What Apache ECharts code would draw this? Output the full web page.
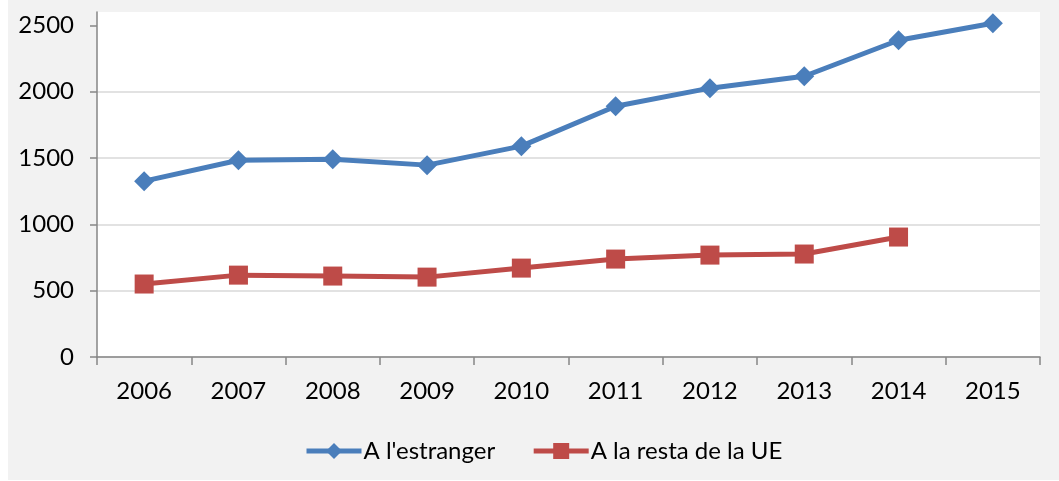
<!DOCTYPE html>
<html>
<head>
<meta charset="UTF-8">
<title>A l'estranger</title>
<script type="text/javascript" src="https://cdn.jsdelivr.net/npm/echarts@6/dist/echarts.min.js"></script>
<style>
  html, body { margin: 0; padding: 0; background: #fff; }
  #main { position: absolute; left: 8px; top: 0; width: 1051px; height: 480px; }
</style>
</head>
<body>
    <div id="main"></div>
    <script type="text/javascript">
    // dades llegides del gràfic
    var years = ['2006', '2007', '2008', '2009', '2010', '2011', '2012', '2013', '2014', '2015'];
    var estranger = [1325, 1483, 1491, 1446, 1589, 1890, 2026, 2116, 2387, 2515];
    var restaUE = [550, 617, 610, 602, 670, 738, 768, 776, 904, null];
    var yTicks = [0, 500, 1000, 1500, 2000, 2500];

    var myChart = echarts.init(document.getElementById('main'));
    var font = 'Lato, "Open Sans", sans-serif';

    var option = {
        backgroundColor: '#f2f2f2',
        animation: false,
        textStyle: { fontFamily: font },
        legend: {
            left: 291,
            top: 434,
            itemWidth: 55,
            itemHeight: 20,
            itemGap: 36,
            lineStyle: { width: 5 },
            textStyle: { fontSize: 24, color: '#000', fontFamily: font, padding: [0, 0, 0, -3] },
            data: ["A l'estranger", 'A la resta de la UE']
        },
        grid: {
            left: 89,
            right: 19,
            top: 12,
            bottom: 123,
            show: true,
            backgroundColor: '#fff',
            borderWidth: 0
        },
        xAxis: {
            type: 'category',
            data: years,
            boundaryGap: true,
            axisLine: { lineStyle: { color: '#868686', width: 1.5 } },
            axisTick: { show: true, length: 8, lineStyle: { color: '#868686', width: 1.5 } },
            axisLabel: { fontSize: 24, color: '#000', margin: 22, fontFamily: font }
        },
        yAxis: {
            type: 'value',
            min: 0,
            max: 2600,
            interval: 500,
            axisLine: { show: true, lineStyle: { color: '#868686', width: 1.5 } },
            axisTick: { show: true, length: 7, customValues: yTicks, lineStyle: { color: '#868686', width: 1.5 } },
            axisLabel: { fontSize: 24, color: '#000', margin: 23, customValues: yTicks, fontFamily: font,
                formatter: function (v) { return String(v); } },
            splitLine: { show: true, showMaxLine: false, lineStyle: { color: '#d9d9d9', width: 1.5 } }
        },
        series: [
            {
                name: "A l'estranger",
                type: 'line',
                data: estranger,
                symbol: 'diamond',
                symbolSize: 20,
                itemStyle: { color: '#4a7ebb' },
                lineStyle: { color: '#4a7ebb', width: 5 }
            },
            {
                name: 'A la resta de la UE',
                type: 'line',
                data: restaUE,
                symbol: 'rect',
                symbolSize: 19,
                itemStyle: { color: '#be4b48' },
                lineStyle: { color: '#be4b48', width: 5 }
            }
        ]
    };

    myChart.setOption(option);
    </script>
</body>
</html>
